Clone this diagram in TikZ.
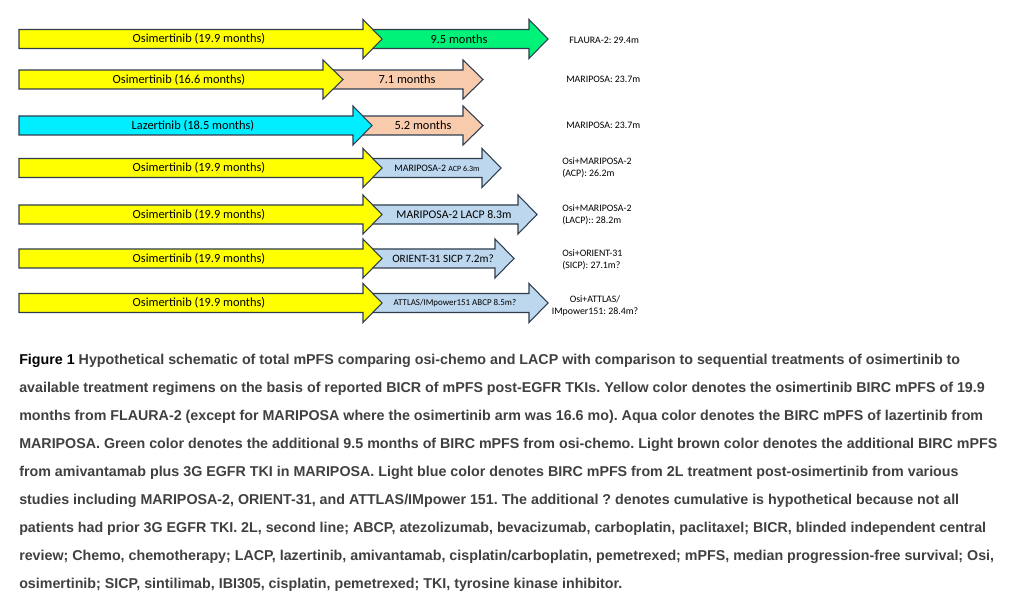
\documentclass[tikz,border=0pt]{standalone}
\usepackage{fontspec}
\setmainfont{Carlito}
\newfontfamily\capfont{Liberation Sans}
\definecolor{osiyel}{HTML}{FFFF00}
\definecolor{chemogrn}{HTML}{00F279}
\definecolor{amivbrn}{HTML}{F8CBAD}
\definecolor{lazaqua}{HTML}{00EEFF}
\definecolor{secblue}{HTML}{BDD7EE}
\definecolor{edge}{HTML}{2F3E4E}
\definecolor{captxt}{HTML}{404040}
\frenchspacing
\begin{document}
\begin{tikzpicture}[x=0.75pt, y=-0.75pt,
    blk/.style={draw=edge, line width=0.8pt, line join=miter},
    lbl/.style={inner sep=0pt, font=\fontsize{9.3}{10}\selectfont},
    side/.style={inner sep=0pt, align=left, font=\fontsize{7.4}{8.6}\selectfont},
    capline/.style={inner sep=0pt, anchor=base west, text=captxt, font=\capfont\bfseries\fontsize{10.7}{12}\selectfont}
]
\useasboundingbox (0,0) rectangle (1028,602);
% second-line bars first, the first-line bars overlap their tails
\foreach \xs/\xb/\xt/\y/\c in {363/529/548/39/chemogrn, 323/463/483/79.5/amivbrn,
    353/463/483/125.5/amivbrn, 363/482/501/168/secblue, 363/518/537/214.5/secblue,
    363/495/514/258.5/secblue, 363/529/548/303/secblue}
  \draw[blk, fill=\c] (\xs,\y-9.5) -- (\xb,\y-9.5) -- (\xb,\y-19.5) -- (\xt,\y)
    -- (\xb,\y+19.5) -- (\xb,\y+9.5) -- (\xs,\y+9.5) -- cycle;
\foreach \xs/\xb/\xt/\y/\c in {19/363/382/39/osiyel, 19/323/343/79.5/osiyel,
    19/353/372/125.5/lazaqua, 19/363/382/168/osiyel, 19/363/382/214.5/osiyel,
    19/363/382/258.5/osiyel, 19/363/382/303/osiyel}
  \draw[blk, fill=\c] (\xs,\y-9.5) -- (\xb,\y-9.5) -- (\xb,\y-19.5) -- (\xt,\y)
    -- (\xb,\y+19.5) -- (\xb,\y+9.5) -- (\xs,\y+9.5) -- cycle;
% bar labels
\node[lbl] (osi1) at (199,39) {Osimertinib (19.9 months)};
\node[lbl] (osi2) at (179,79.5) {Osimertinib (16.6 months)};
\node[lbl] (laz) at (193,125.5) {Lazertinib (18.5 months)};
\node[lbl] (osi4) at (199,168) {Osimertinib (19.9 months)};
\node[lbl] (osi5) at (199,214.5) {Osimertinib (19.9 months)};
\node[lbl] (osi6) at (199,258.5) {Osimertinib (19.9 months)};
\node[lbl] (osi7) at (199,303) {Osimertinib (19.9 months)};
\node[lbl] (chemo) at (459,39) {9.5 months};
\node[lbl] (amiv2) at (407,79.5) {7.1 months};
\node[lbl] (amiv3) at (423,125.5) {5.2 months};
\node[lbl, font=\fontsize{7.4}{8}\selectfont] (mar2a) at (437,168) {MARIPOSA-2 {\fontsize{6}{7}\selectfont ACP 6.3m}};
\node[lbl, font=\fontsize{8.8}{10}\selectfont] (mar2l) at (454,214.5) {MARIPOSA-2 LACP 8.3m};
\node[lbl, font=\fontsize{8.4}{10}\selectfont] (ori) at (443,258.5) {ORIENT-31 SICP 7.2m?};
\node[lbl, font=\fontsize{6.7}{8}\selectfont] (att) at (455,303) {ATTLAS/IMpower151 ABCP 8.5m?};
% totals on the right
\node[side, anchor=west] (tot1) at (569,40) {FLAURA-2: 29.4m};
\node[side, anchor=west] (tot2) at (566,79.5) {MARIPOSA: 23.7m};
\node[side, anchor=west] (tot3) at (566,125.5) {MARIPOSA: 23.7m};
\node[side, anchor=west] (tot4) at (562,168) {Osi+MARIPOSA-2\\(ACP): 26.2m};
\node[side, anchor=west] (tot5) at (562,215) {Osi+MARIPOSA-2\\(LACP):: 28.2m};
\node[side, anchor=west] (tot6) at (562,260) {Osi+ORIENT-31\\(SICP): 27.1m?};
\node[side, align=center] (tot7) at (595,306) {Osi+ATTLAS/\\IMpower151: 28.4m?};
% caption
\foreach \t [count=\i from 0] in {
  {\textcolor{black}{Figure 1} Hypothetical schematic of total mPFS comparing osi-chemo and LACP with comparison to sequential treatments of osimertinib to},
  {available treatment regimens on the basis of reported BICR of mPFS post-EGFR TKIs. Yellow color denotes the osimertinib BIRC mPFS of 19.9},
  {months from FLAURA-2 (except for MARIPOSA where the osimertinib arm was 16.6 mo). Aqua color denotes the BIRC mPFS of lazertinib from},
  {MARIPOSA. Green color denotes the additional 9.5 months of BIRC mPFS from osi-chemo. Light brown color denotes the additional BIRC mPFS},
  {from amivantamab plus 3G EGFR TKI in MARIPOSA. Light blue color denotes BIRC mPFS from 2L treatment post-osimertinib from various},
  {studies including MARIPOSA-2, ORIENT-31, and ATTLAS/IMpower 151. The additional ? denotes cumulative is hypothetical because not all},
  {patients had prior 3G EGFR TKI. 2L, second line; ABCP, atezolizumab, bevacizumab, carboplatin, paclitaxel; BICR, blinded independent central},
  {review; Chemo, chemotherapy; LACP, lazertinib, amivantamab, cisplatin/carboplatin, pemetrexed; mPFS, median progression-free survival; Osi,},
  {osimertinib; SICP, sintilimab, IBI305, cisplatin, pemetrexed; TKI, tyrosine kinase inhibitor.}}
  \node[capline] (cap\i) at (19,364+28*\i) {\t};
\end{tikzpicture}
\end{document}
